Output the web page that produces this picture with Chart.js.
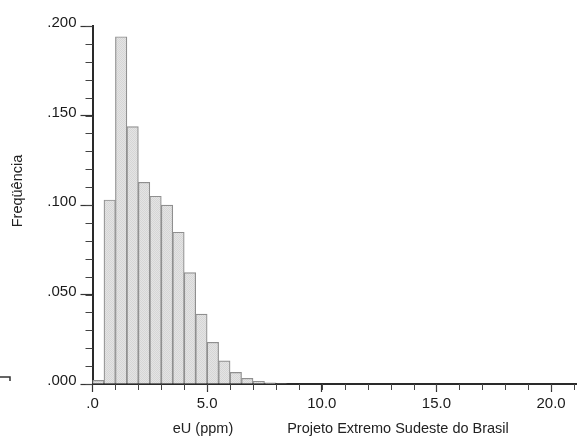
<!DOCTYPE html>
<html><head><meta charset="utf-8">
<script src="https://cdn.jsdelivr.net/npm/chart.js@4/dist/chart.umd.min.js"></script>
<style>html,body{margin:0;padding:0;background:#fff}</style>
</head><body>
<canvas id="c" width="577" height="439"></canvas>
<script>
// ---- data ----
const binStart = [0.0, 0.5, 1.0, 1.5, 2.0, 2.5, 3.0, 3.5, 4.0, 4.5, 5.0, 5.5, 6.0, 6.5, 7.0, 7.5, 8.0];
const frequency = [0.0020, 0.1028, 0.1940, 0.1438, 0.1127, 0.1049, 0.0999, 0.0848, 0.0622, 0.0390, 0.0233, 0.0129, 0.0065, 0.0032, 0.0015, 0.0007, 0.0003];
const binWidth = 0.5;
const yTickLabels = ['.000', '.050', '.100', '.150', '.200'];
const xTickLabels = ['.0', '5.0', '10.0', '15.0', '20.0'];
const yTitle = 'Freqüência';
const xTitle = 'eU (ppm)';
const sourceNote = 'Projeto Extremo Sudeste do Brasil';

const FONT = '"Liberation Sans", Arial, sans-serif';
const points = binStart.map((s, i) => ({ x: s + binWidth / 2, y: frequency[i] }));

// fine stipple texture for the bars
function makePattern() {
  const p = document.createElement('canvas');
  p.width = 2; p.height = 2;
  const g = p.getContext('2d');
  g.fillStyle = '#e4e4e4'; g.fillRect(0, 0, 2, 2);
  g.fillStyle = '#d6d6d6'; g.fillRect(0, 0, 1, 1); g.fillRect(1, 1, 1, 1);
  return g.createPattern(p, 'repeat');
}

const extras = {
  id: 'extras',
  afterDraw(chart) {
    const ctx = chart.ctx, x = chart.scales.x, y = chart.scales.y;
    const ca = chart.chartArea;
    ctx.save();
    // minor ticks
    ctx.strokeStyle = '#444'; ctx.lineWidth = 1;
    for (let v = 0; v <= 0.2001; v += 0.01) {
      const py = Math.round(y.getPixelForValue(v)) + 0.5;
      ctx.beginPath(); ctx.moveTo(ca.left - 7, py); ctx.lineTo(ca.left, py); ctx.stroke();
    }
    for (let v = 1; v <= x.max; v += 1) {
      const px = Math.round(x.getPixelForValue(v)) + 0.5;
      ctx.beginPath(); ctx.moveTo(px, ca.bottom); ctx.lineTo(px, ca.bottom + 6); ctx.stroke();
    }
    // titles
    ctx.fillStyle = '#222';
    ctx.font = '14.5px ' + FONT;
    ctx.textAlign = 'center'; ctx.textBaseline = 'alphabetic';
    ctx.fillText(xTitle, 203, 433);
    ctx.fillText(sourceNote, 398, 433);
    ctx.save();
    ctx.translate(22, 191); ctx.rotate(-Math.PI / 2);
    ctx.fillText(yTitle, 0, 0);
    ctx.restore();
    // small stray mark at left edge
    ctx.strokeStyle = '#333'; ctx.lineWidth = 1.5;
    ctx.beginPath(); ctx.moveTo(0, 377); ctx.lineTo(10, 377); ctx.lineTo(10, 381); ctx.stroke();
    ctx.restore();
  }
};

new Chart(document.getElementById('c'), {
  type: 'bar',
  data: {
    datasets: [{
      data: points,
      backgroundColor: makePattern(),
      borderColor: '#8f8f8f',
      borderWidth: 1.2,
      barPercentage: 1,
      categoryPercentage: 1
    }]
  },
  options: {
    responsive: false,
    animation: false,
    devicePixelRatio: 1,
    layout: { padding: { top: 26, right: 0, left: 0, bottom: 0 } },
    plugins: { legend: { display: false }, tooltip: { enabled: false } },
    scales: {
      x: {
        type: 'linear', min: 0, max: 21.13, offset: false,
        border: { display: true, color: '#2a2a2a', width: 2 },
        grid: { offset: false, drawOnChartArea: false, drawTicks: true, tickLength: 8, tickColor: '#333', tickWidth: 1.2 },
        ticks: {
          stepSize: 5, includeBounds: false, padding: 3, maxRotation: 0, autoSkip: false,
          color: '#1a1a1a', font: { family: FONT, size: 15 },
          callback: (v, i) => xTickLabels[i]
        },
        afterFit: s => { s.height = 55; }
      },
      y: {
        min: 0, max: 0.2,
        border: { display: true, color: '#2a2a2a', width: 2 },
        grid: { drawOnChartArea: false, drawTicks: true, tickLength: 12, tickColor: '#333', tickWidth: 1.2 },
        ticks: {
          stepSize: 0.05, padding: 4, labelOffset: -3,
          color: '#1a1a1a', font: { family: FONT, size: 15 },
          callback: (v, i) => yTickLabels[i]
        },
        afterFit: s => { s.width = 92.5; }
      }
    }
  },
  plugins: [extras]
});
</script>
</body></html>
